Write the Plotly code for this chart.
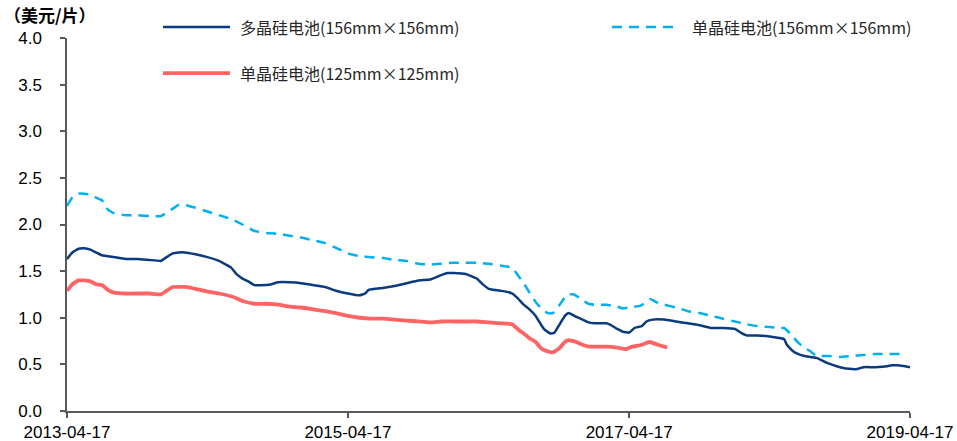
import plotly.graph_objects as go

# ---------------- data ----------------
poly156_dates = ["2013-04-17","2013-05-01","2013-05-17","2013-06-01","2013-06-17","2013-07-01","2013-07-17",
    "2013-08-17","2013-09-17","2013-10-17","2013-11-17","2013-12-17","2014-01-01","2014-01-17","2014-02-01",
    "2014-02-17","2014-03-17","2014-04-17","2014-05-17","2014-06-17","2014-07-01","2014-07-17","2014-08-01",
    "2014-08-17","2014-09-17","2014-10-01","2014-10-17","2014-11-17","2014-12-17","2015-01-17","2015-02-17",
    "2015-03-17","2015-04-17","2015-05-17","2015-06-01","2015-06-10","2015-07-17","2015-08-17","2015-09-17",
    "2015-10-17","2015-11-17","2015-12-17","2016-01-01","2016-01-17","2016-02-17","2016-03-01","2016-03-17",
    "2016-04-01","2016-04-17","2016-05-17","2016-06-01","2016-06-17","2016-07-01","2016-07-17","2016-08-01",
    "2016-08-17","2016-09-01","2016-09-10","2016-09-25","2016-10-05","2016-10-17","2016-11-01","2016-11-10",
    "2016-12-01","2016-12-17","2017-01-01","2017-01-17","2017-02-17","2017-03-01","2017-03-17","2017-04-01",
    "2017-04-17","2017-05-01","2017-05-10","2017-05-20","2017-06-01","2017-06-17","2017-07-17","2017-08-17",
    "2017-09-17","2017-10-17","2017-11-17","2017-12-17","2018-01-17","2018-02-01","2018-02-17","2018-03-17",
    "2018-04-17","2018-05-17","2018-05-25","2018-06-01","2018-06-17","2018-07-01","2018-07-17","2018-08-17",
    "2018-09-17","2018-10-17","2018-11-17","2018-12-01","2018-12-17","2019-01-17","2019-02-17","2019-03-01",
    "2019-03-17","2019-04-17"]
poly156_values = [1.63,1.70,1.74,1.745,1.73,1.70,1.67,
    1.65,1.63,1.63,1.62,1.61,1.65,1.69,1.70,
    1.70,1.68,1.65,1.61,1.54,1.47,1.42,1.39,
    1.35,1.35,1.36,1.38,1.38,1.37,1.35,1.33,
    1.29,1.26,1.24,1.26,1.30,1.32,1.34,1.37,
    1.40,1.41,1.46,1.48,1.48,1.47,1.45,1.42,
    1.36,1.31,1.29,1.28,1.26,1.21,1.14,1.09,
    1.02,0.92,0.87,0.83,0.84,0.92,1.02,1.05,
    1.01,0.98,0.95,0.94,0.94,0.92,0.88,0.85,
    0.84,0.89,0.90,0.91,0.96,0.98,0.98,0.96,
    0.94,0.92,0.89,0.89,0.88,0.84,0.81,0.81,
    0.80,0.78,0.77,0.71,0.64,0.61,0.59,0.57,
    0.51,0.47,0.45,0.45,0.47,0.47,0.48,0.49,
    0.49,0.47]

mono156_dates = ["2013-04-17","2013-05-01","2013-05-17","2013-06-01","2013-06-17","2013-07-01","2013-07-17",
    "2013-08-01","2013-08-17","2013-09-17","2013-10-17","2013-11-17","2013-12-17","2014-01-17","2014-02-01",
    "2014-02-17","2014-03-17","2014-04-17","2014-05-17","2014-06-17","2014-07-17","2014-08-17","2014-09-17",
    "2014-10-17","2014-11-17","2014-12-17","2015-01-17","2015-02-17","2015-03-17","2015-04-17","2015-05-17",
    "2015-06-17","2015-07-17","2015-08-17","2015-09-17","2015-10-17","2015-11-17","2015-12-17","2016-01-17",
    "2016-02-17","2016-03-17","2016-04-17","2016-05-17","2016-06-01","2016-06-17","2016-07-01","2016-07-17",
    "2016-08-01","2016-08-17","2016-09-01","2016-09-17","2016-10-01","2016-10-17","2016-11-01","2016-11-10",
    "2016-11-25","2016-12-17","2017-01-01","2017-01-17","2017-02-17","2017-03-17","2017-04-01","2017-04-17",
    "2017-05-17","2017-06-01","2017-06-10","2017-07-01","2017-07-17","2017-08-17","2017-09-17","2017-10-17",
    "2017-11-17","2017-12-17","2018-01-17","2018-02-17","2018-03-17","2018-04-17","2018-05-17","2018-05-25",
    "2018-06-10","2018-07-01","2018-07-17","2018-08-01","2018-08-17","2018-09-17","2018-10-17","2018-11-17",
    "2018-12-17","2019-01-17","2019-02-17","2019-03-17","2019-03-28"]
mono156_values = [2.20,2.29,2.33,2.33,2.32,2.29,2.26,
    2.16,2.12,2.10,2.10,2.09,2.09,2.17,2.21,
    2.21,2.18,2.14,2.10,2.06,2.00,1.93,1.91,
    1.90,1.88,1.86,1.83,1.80,1.75,1.69,1.66,
    1.65,1.64,1.62,1.61,1.58,1.57,1.58,1.59,
    1.59,1.59,1.58,1.56,1.55,1.54,1.46,1.37,
    1.27,1.17,1.10,1.05,1.05,1.13,1.22,1.25,
    1.25,1.19,1.15,1.14,1.14,1.12,1.10,1.11,
    1.13,1.17,1.20,1.16,1.14,1.11,1.07,1.05,
    1.02,0.99,0.96,0.93,0.91,0.90,0.89,0.89,
    0.83,0.73,0.68,0.64,0.59,0.59,0.58,0.59,
    0.60,0.61,0.61,0.61,0.61]

mono125_dates = ["2013-04-17","2013-05-01","2013-05-17","2013-06-01","2013-06-17","2013-07-01","2013-07-17",
    "2013-08-01","2013-08-17","2013-09-17","2013-10-17","2013-11-17","2013-12-17","2014-01-01","2014-01-17",
    "2014-02-17","2014-03-17","2014-04-17","2014-05-17","2014-06-17","2014-07-01","2014-07-17","2014-08-17",
    "2014-09-17","2014-10-17","2014-11-17","2014-12-17","2015-01-17","2015-02-17","2015-03-17","2015-04-17",
    "2015-05-17","2015-06-17","2015-07-17","2015-08-17","2015-09-17","2015-10-17","2015-11-17","2015-12-17",
    "2016-01-17","2016-02-17","2016-03-17","2016-04-17","2016-05-17","2016-06-17","2016-07-01","2016-07-17",
    "2016-08-01","2016-08-17","2016-09-01","2016-09-17","2016-10-01","2016-10-17","2016-11-01","2016-11-10",
    "2016-12-01","2016-12-17","2017-01-01","2017-01-17","2017-02-17","2017-03-17","2017-04-10","2017-04-25",
    "2017-05-10","2017-05-20","2017-06-01","2017-06-10","2017-07-01","2017-07-17","2017-07-25"]
mono125_values = [1.29,1.36,1.40,1.40,1.39,1.36,1.35,
    1.30,1.27,1.26,1.26,1.26,1.25,1.29,1.33,
    1.33,1.31,1.28,1.26,1.23,1.21,1.18,1.15,
    1.15,1.14,1.12,1.11,1.09,1.07,1.05,1.02,
    1.00,0.99,0.99,0.98,0.97,0.96,0.95,0.96,
    0.96,0.96,0.96,0.95,0.94,0.93,0.88,0.83,
    0.78,0.74,0.67,0.64,0.63,0.67,0.74,0.76,
    0.74,0.71,0.69,0.69,0.69,0.68,0.665,0.69,
    0.70,0.71,0.73,0.74,0.71,0.69,0.68]

series_names = ["多晶硅电池(156mm×156mm)", "单晶硅电池(156mm×156mm)", "单晶硅电池(125mm×125mm)"]
x_tick_vals = ["2013-04-17", "2015-04-17", "2017-04-17", "2019-04-17"]
y_tick_vals = [0.0, 0.5, 1.0, 1.5, 2.0, 2.5, 3.0, 3.5, 4.0]
unit_label = "（美元/片）"

# ---------------- style ----------------
C_DARK = "#0b3a7e"
C_LIGHT = "#00b0f0"
C_RED = "#ff6464"
AXIS = "#595959"
FONT = "Liberation Sans, Arial, sans-serif"
CJK = "Noto Sans CJK SC, sans-serif"

fig = go.Figure()
fig.add_trace(go.Scatter(x=poly156_dates, y=poly156_values, mode="lines", name=series_names[0],
                         line=dict(color=C_DARK, width=2.5, shape="spline", smoothing=0.3)))
fig.add_trace(go.Scatter(x=mono156_dates, y=mono156_values, mode="lines", name=series_names[1],
                         line=dict(color=C_LIGHT, width=2.5, dash="10px,7px", shape="spline", smoothing=0.3)))
fig.add_trace(go.Scatter(x=mono125_dates, y=mono125_values, mode="lines", name=series_names[2],
                         line=dict(color=C_RED, width=3.8, shape="spline", smoothing=0.3)))

# custom legend (lines + labels)
legend_items = [
    (0.1139, 0.1934, 1.0295, C_DARK, 2.5, "solid", 0.2028, series_names[0]),
    (0.6465, 0.7272, 1.0295, C_LIGHT, 2.5, "dash", 0.739, series_names[1]),
    (0.1139, 0.1934, 0.906, C_RED, 3.8, "solid", 0.2028, series_names[2]),
]
for x0, x1, yy, col, w, dash, tx, name in legend_items:
    fig.add_shape(type="line", xref="paper", yref="paper", x0=x0, x1=x1, y0=yy, y1=yy,
                  line=dict(color=col, width=w, dash=("10px,7px" if dash == "dash" else "solid")))
    fig.add_annotation(xref="paper", yref="paper", x=tx, y=yy, xanchor="left", yanchor="middle",
                       text=name, showarrow=False, font=dict(family=CJK, size=16, color="#262626"))

fig.add_annotation(xref="paper", yref="paper", x=-0.0775, y=1.063, xanchor="left", yanchor="middle",
                   text="<b>" + unit_label + "</b>", showarrow=False,
                   font=dict(family=CJK, size=17, color="#000000"))

fig.update_layout(
    width=957, height=441,
    margin=dict(l=67, r=47, t=38, b=30, autoexpand=False),
    paper_bgcolor="white", plot_bgcolor="white",
    showlegend=False,
    font=dict(family=FONT, size=14, color="#000000"),
)
fig.update_xaxes(
    type="date", range=["2013-04-17", "2019-04-17"], automargin=False,
    tickmode="array", tickvals=x_tick_vals, ticktext=x_tick_vals,
    showgrid=False, zeroline=False,
    showline=True, linecolor=AXIS, linewidth=1.5,
    ticks="outside", ticklen=5, tickcolor=AXIS, tickwidth=1.5,
    tickfont=dict(family=FONT, size=17, color="#000000"),
)
fig.update_yaxes(
    range=[0, 4.0], tickmode="array", tickvals=y_tick_vals, automargin=False,
    ticktext=[f"{v:.1f}" for v in y_tick_vals],
    showgrid=False, zeroline=False,
    showline=True, linecolor=AXIS, linewidth=1.5,
    ticks="outside", ticklen=5, tickcolor=AXIS, tickwidth=1.5,
    ticklabelstandoff=15,
    tickfont=dict(family=FONT, size=17, color="#000000"),
)

fig.write_html("out.html", config={"displayModeBar": False},
               post_script="document.body.style.margin='0px';document.body.style.overflow='hidden';")
